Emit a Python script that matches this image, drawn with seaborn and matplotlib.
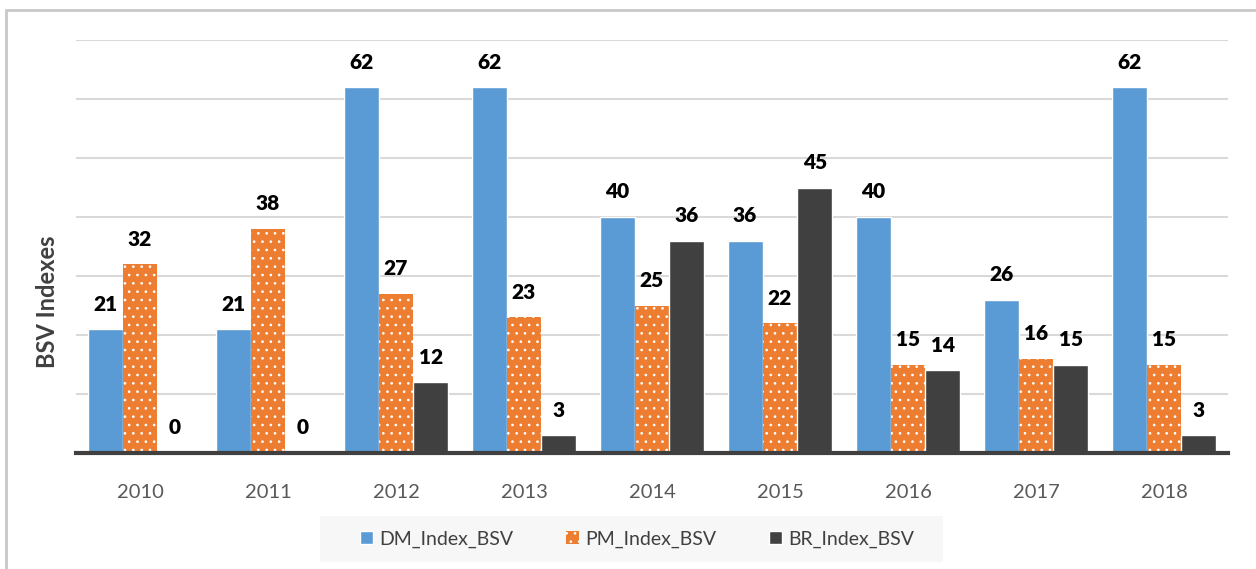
import pandas as pd
import numpy as np
import matplotlib.pyplot as plt
import matplotlib.patches as mpatches
import seaborn as sns

years = ['2010', '2011', '2012', '2013', '2014', '2015', '2016', '2017', '2018']
dm_index = [21, 21, 62, 62, 40, 36, 40, 26, 62]
pm_index = [32, 38, 27, 23, 25, 22, 15, 16, 15]
br_index = [0, 0, 12, 3, 36, 45, 14, 15, 3]
series_names = ['DM_Index_BSV', 'PM_Index_BSV', 'BR_Index_BSV']
colors = ['#5B9BD5', '#ED7D31', '#404040']

#long table for seaborn
df = pd.DataFrame({'year': years * 3,
                   'series': np.repeat(series_names, len(years)),
                   'value': dm_index + pm_index + br_index})

sns.set_theme(style='white')
plt.rcParams['font.family'] = ['Lato', 'DejaVu Sans']
plt.rcParams['hatch.linewidth'] = 0.7

fig = plt.figure(figsize=(12.56, 5.69), dpi=100)
ax = fig.add_axes([76 / 1256, 116 / 569, 1152 / 1256, 413 / 569])

sns.barplot(data=df, x='year', y='value', hue='series', hue_order=series_names,
            palette=colors, width=0.82, saturation=1, ax=ax, legend=False)

#orange bars get the white dot pattern
for bar in ax.containers[1]:
    bar.set_hatch('..')
    bar.set_edgecolor('white')
    bar.set_linewidth(0)

#value labels
for cont in ax.containers:
    for bar in cont:
        h = bar.get_height()
        ax.annotate(f'{h:.0f}', (bar.get_x() + bar.get_width() / 2, h),
                    xytext=(0, 18), textcoords='offset points',
                    ha='center', va='center', fontsize=15, fontweight='heavy', color='black')

ax.set_ylim(0, 70)
ax.set_yticks(range(10, 80, 10))
ax.yaxis.grid(True, color='#D9D9D9', linewidth=1.5)
ax.set_axisbelow(True)
ax.tick_params(axis='y', left=False, labelleft=False)
ax.tick_params(axis='x', bottom=False, pad=16, labelsize=14.5, labelcolor='#595959')
ax.set_xlim(-0.5, len(years) - 0.5)
ax.set_xlabel('')
ax.set_ylabel('BSV Indexes', fontsize=17, fontweight='bold', color='#404040')
ax.yaxis.set_label_coords(-17 / 1152, (453 - 302) / 413)

for side in ['top', 'right', 'left']:
    ax.spines[side].set_visible(False)
ax.spines['bottom'].set_color('#404040')
ax.spines['bottom'].set_linewidth(3)

#legend background box
fig.patches.append(mpatches.Rectangle((320 / 1256, 1 - 562 / 569), 623 / 1256, 46 / 569,
                                      transform=fig.transFigure, facecolor='#F7F7F7',
                                      edgecolor='none', zorder=0))

handles = [mpatches.Patch(facecolor=colors[0]),
           mpatches.Patch(facecolor=colors[1], hatch='..', edgecolor='white', linewidth=0),
           mpatches.Patch(facecolor=colors[2])]
leg = fig.legend(handles, series_names, loc='center', bbox_to_anchor=(637 / 1256, 1 - 539 / 569),
                 ncol=3, frameon=False, fontsize=14, handlelength=0.7, handleheight=0.7,
                 handletextpad=0.3, columnspacing=2.7, borderpad=0, borderaxespad=0)
for t in leg.get_texts():
    t.set_color('#404040')

#outer chart border
fig.patches.append(mpatches.Rectangle((6 / 1256, -0.1), 1.2, 1 - 10 / 569 + 0.1,
                                      transform=fig.transFigure, fill=False,
                                      edgecolor='#C8C8C8', linewidth=2))

fig.savefig('out.png', dpi=100)
